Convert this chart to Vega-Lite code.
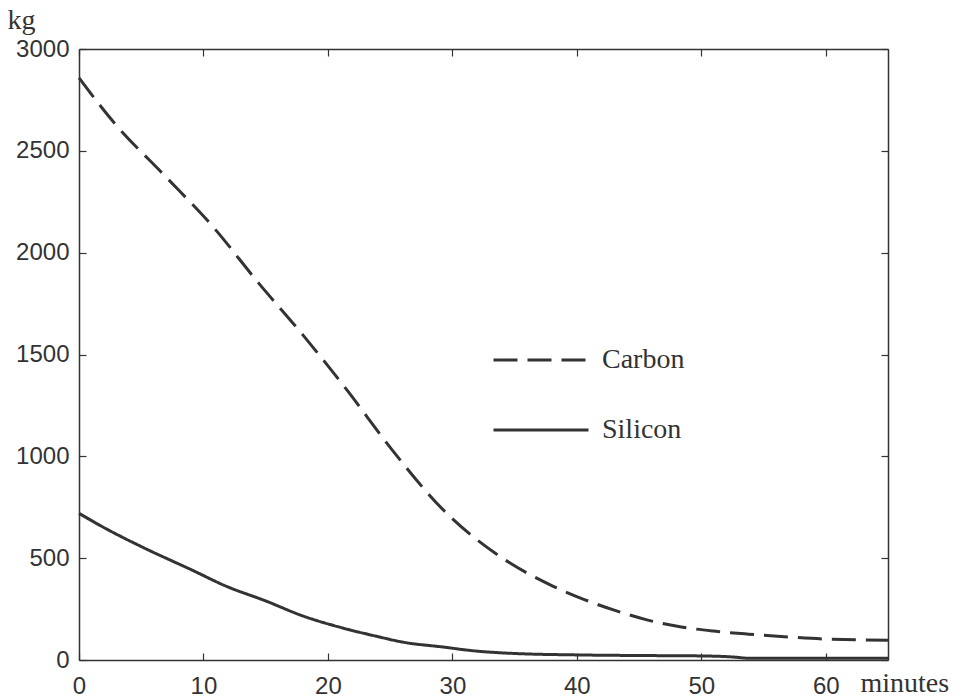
{
  "$schema": "https://vega.github.io/schema/vega-lite/v6.json",
  "width": 809,
  "height": 611,
  "autosize": {"type": "none"},
  "padding": {"left": 79, "top": 49, "right": 72, "bottom": 40},
  "background": "white",
  "config": {
    "view": {"stroke": null},
    "axis": {
      "grid": false,
      "domainColor": "#333",
      "domainWidth": 1.5,
      "tickColor": "#333",
      "tickWidth": 1.2,
      "tickSize": -7,
      "labelFont": "Liberation Sans",
      "labelFontSize": 24,
      "labelColor": "#333",
      "labelFlush": false,
      "labelOverlap": false,
      "labelBound": false,
      "format": "d",
      "titleFont": "Liberation Serif",
      "titleFontSize": 28,
      "titleFontWeight": "normal",
      "titleColor": "#333"
    }
  },
  "data": {
    "values": [
      {"series": "Carbon", "t": 0, "kg": 2858},
      {"series": "Carbon", "t": 2.9, "kg": 2632},
      {"series": "Carbon", "t": 6.9, "kg": 2377},
      {"series": "Carbon", "t": 10.7, "kg": 2132},
      {"series": "Carbon", "t": 14.4, "kg": 1853},
      {"series": "Carbon", "t": 18.0, "kg": 1595},
      {"series": "Carbon", "t": 21.6, "kg": 1320},
      {"series": "Carbon", "t": 25.0, "kg": 1044},
      {"series": "Carbon", "t": 29.3, "kg": 735},
      {"series": "Carbon", "t": 33.9, "kg": 505},
      {"series": "Carbon", "t": 37.9, "kg": 368},
      {"series": "Carbon", "t": 40.3, "kg": 304},
      {"series": "Carbon", "t": 43.0, "kg": 245},
      {"series": "Carbon", "t": 45.7, "kg": 196},
      {"series": "Carbon", "t": 48.4, "kg": 162},
      {"series": "Carbon", "t": 51.0, "kg": 142},
      {"series": "Carbon", "t": 53.8, "kg": 127},
      {"series": "Carbon", "t": 57.0, "kg": 113},
      {"series": "Carbon", "t": 59.9, "kg": 103},
      {"series": "Carbon", "t": 65.0, "kg": 97},
      {"series": "Silicon", "t": 0, "kg": 720},
      {"series": "Silicon", "t": 2.1, "kg": 647},
      {"series": "Silicon", "t": 5.1, "kg": 554},
      {"series": "Silicon", "t": 9.1, "kg": 441},
      {"series": "Silicon", "t": 11.8, "kg": 363},
      {"series": "Silicon", "t": 15.0, "kg": 290},
      {"series": "Silicon", "t": 18.0, "kg": 216},
      {"series": "Silicon", "t": 21.2, "kg": 157},
      {"series": "Silicon", "t": 24.0, "kg": 115},
      {"series": "Silicon", "t": 26.0, "kg": 88},
      {"series": "Silicon", "t": 29.2, "kg": 64},
      {"series": "Silicon", "t": 31.9, "kg": 44},
      {"series": "Silicon", "t": 35.0, "kg": 32},
      {"series": "Silicon", "t": 40.0, "kg": 25},
      {"series": "Silicon", "t": 45.0, "kg": 22},
      {"series": "Silicon", "t": 50.0, "kg": 20},
      {"series": "Silicon", "t": 52.5, "kg": 15},
      {"series": "Silicon", "t": 54.0, "kg": 8},
      {"series": "Silicon", "t": 65.0, "kg": 8}
    ]
  },
  "layer": [
    {
      "transform": [{"filter": "datum.series === 'Carbon'"}],
      "mark": {"type": "line", "strokeWidth": 3, "color": "#333", "interpolate": "monotone"},
      "encoding": {
        "x": {
          "field": "t", "type": "quantitative",
          "scale": {"domain": [0, 65], "nice": false, "zero": false},
          "axis": {"orient": "bottom", "values": [0, 10, 20, 30, 40, 50, 60], "labelPadding": 21, "title": "minutes", "titleX": 781, "titleY": 31, "titleAlign": "left", "titleBaseline": "alphabetic", "titleAnchor": "start"}
        },
        "y": {
          "field": "kg", "type": "quantitative",
          "scale": {"domain": [0, 3000], "nice": false},
          "axis": {"orient": "left", "values": [0, 500, 1000, 1500, 2000, 2500, 3000], "labelPadding": 17, "title": "kg", "titleAngle": 0, "titleX": -72, "titleY": -21, "titleAlign": "left", "titleBaseline": "alphabetic", "titleAnchor": "start"}
        },
        "strokeDash": {
          "field": "series", "type": "nominal",
          "scale": {"domain": ["Carbon"], "range": [[24, 10]]},
          "legend": {"orient": "none", "legendX": 413, "legendY": 262, "title": null, "padding": 0, "symbolType": "stroke", "symbolSize": 9025, "symbolStrokeWidth": 3, "symbolStrokeColor": "#333", "labelFont": "Liberation Serif", "labelFontSize": 28, "labelColor": "#333", "labelOffset": 12}
        }
      }
    },
    {
      "transform": [{"filter": "datum.series === 'Silicon'"}],
      "mark": {"type": "line", "strokeWidth": 3, "color": "#333", "interpolate": "monotone"},
      "encoding": {
        "x": {
          "field": "t", "type": "quantitative",
          "scale": {"domain": [0, 65], "nice": false, "zero": false},
          "axis": {"orient": "top", "values": [0, 10, 20, 30, 40, 50, 60], "labels": false, "title": null}
        },
        "y": {
          "field": "kg", "type": "quantitative",
          "scale": {"domain": [0, 3000], "nice": false},
          "axis": {"orient": "right", "values": [0, 500, 1000, 1500, 2000, 2500, 3000], "labels": false, "title": null}
        },
        "strokeDash": {
          "field": "series", "type": "nominal",
          "scale": {"domain": ["Silicon"], "range": [[1, 0]]},
          "legend": {"orient": "none", "legendX": 413, "legendY": 332, "title": null, "padding": 0, "symbolType": "stroke", "symbolSize": 9025, "symbolStrokeWidth": 3, "symbolStrokeColor": "#333", "labelFont": "Liberation Serif", "labelFontSize": 28, "labelColor": "#333", "labelOffset": 12}
        }
      }
    }
  ],
  "resolve": {
    "scale": {"x": "independent", "y": "independent", "strokeDash": "independent"},
    "axis": {"x": "independent", "y": "independent"},
    "legend": {"strokeDash": "independent"}
  }
}
